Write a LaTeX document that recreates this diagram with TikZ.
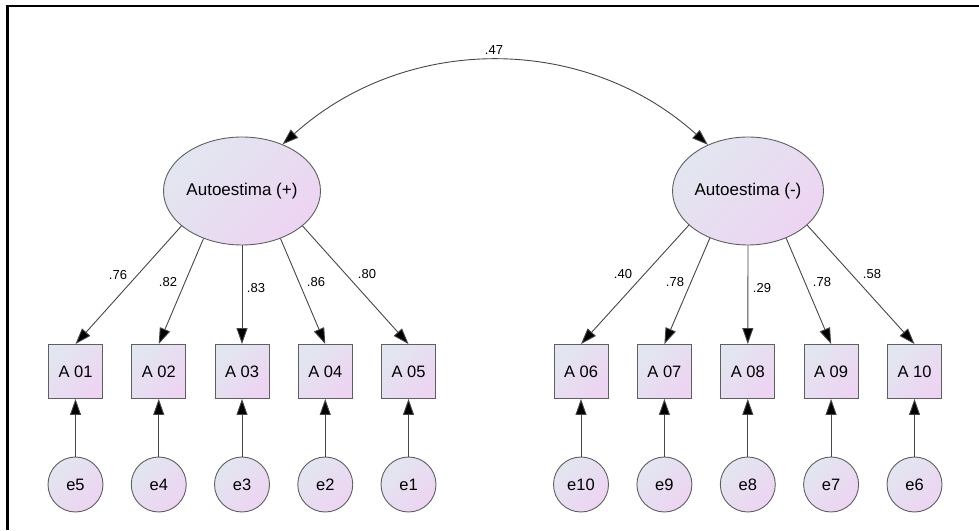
\documentclass[tikz,border=0pt]{standalone}
\usepackage{fontspec}
\setmainfont{Liberation Sans}
\usetikzlibrary{arrows.meta,shapes.geometric}
\definecolor{gA}{RGB}{226,230,240}
\definecolor{gB}{RGB}{237,212,242}
\definecolor{edge}{RGB}{70,70,70}
\definecolor{rim}{RGB}{95,95,95}
\tikzset{
  filled/.style={draw=rim, line width=0.9pt, top color=gA, bottom color=gB, shading angle=45},
  latent/.style={filled, ellipse, minimum width=148pt, minimum height=108pt, inner sep=0pt, font=\fontsize{17}{20}\selectfont},
  observed/.style={filled, rectangle, minimum width=54pt, minimum height=54pt, inner sep=0pt, font=\fontsize{16.5}{19}\selectfont},
  errnode/.style={filled, circle, minimum size=55pt, inner sep=0pt, font=\fontsize{16.5}{19}\selectfont},
  path/.style={draw=edge, line width=0.9pt, -{Triangle[length=16pt,width=11pt,fill=black]}},
  lbl/.style={font=\fontsize{13}{15}\selectfont, inner sep=0pt}
}
\begin{document}
\begin{tikzpicture}[x=1pt,y=1pt]
\useasboundingbox (0,0) rectangle (979,530);
\draw[line width=2.5pt, black] (7.3,0) -- (7.3,524) -- (979,524);

\node[latent] (L) at (242,339) {Autoestima (+)};
\node[latent] (R) at (748,339) {Autoestima (-)};

\foreach \n/\x/\e in {1/75.5/5,2/158.75/4,3/242/3,4/325.25/2,5/408.5/1}{
  \node[observed] (A\n) at (\x,158.5) {A 0\n};
  \node[errnode] (E\n) at (\x,45.5) {e\e};
}
\foreach \n/\x/\t/\e in {6/581/A 06/10,7/664.4/A 07/9,8/747.8/A 08/8,9/831.1/A 09/7,10/914.5/A 10/6}{
  \node[observed] (A\n) at (\x,158.5) {\t};
  \node[errnode] (E\n) at (\x,45.5) {e\e};
}

\foreach \n in {1,...,10}{
  \draw[path] (E\n.north) -- (A\n.south);
}

\draw[path] (L.210) -- (A1.north);
\draw[path] (L.231) -- (A2.north);
\draw[path] (L.270) -- (A3.north);
\draw[path] (L.309) -- (A4.north);
\draw[path] (L.330) -- (A5.north);
\draw[path] (R.210) -- (A6.north);
\draw[path] (R.231) -- (A7.north);
\draw[path] (R.270) -- (A8.north);
\draw[path] (R.309) -- (A9.north);
\draw[path] (R.330) -- (A10.north);

\draw[draw=edge, line width=0.9pt, {Triangle[length=16pt,width=11pt,fill=black]}-{Triangle[length=16pt,width=11pt,fill=black]}] (L.49) to[bend left=42] (R.131);

\node[lbl] (c47) at (494,480) {.47};
\node[lbl] (l1) at (118,255) {.76};
\node[lbl] (l2) at (168,248) {.82};
\node[lbl] (l3) at (256,242) {.83};
\node[lbl] (l4) at (316,248) {.86};
\node[lbl] (l5) at (367,256) {.80};
\node[lbl] (l6) at (623,256) {.40};
\node[lbl] (l7) at (675,248) {.78};
\node[lbl] (l8) at (762,242) {.29};
\node[lbl] (l9) at (822,248) {.78};
\node[lbl] (l10) at (872,256) {.58};
\end{tikzpicture}
\end{document}
